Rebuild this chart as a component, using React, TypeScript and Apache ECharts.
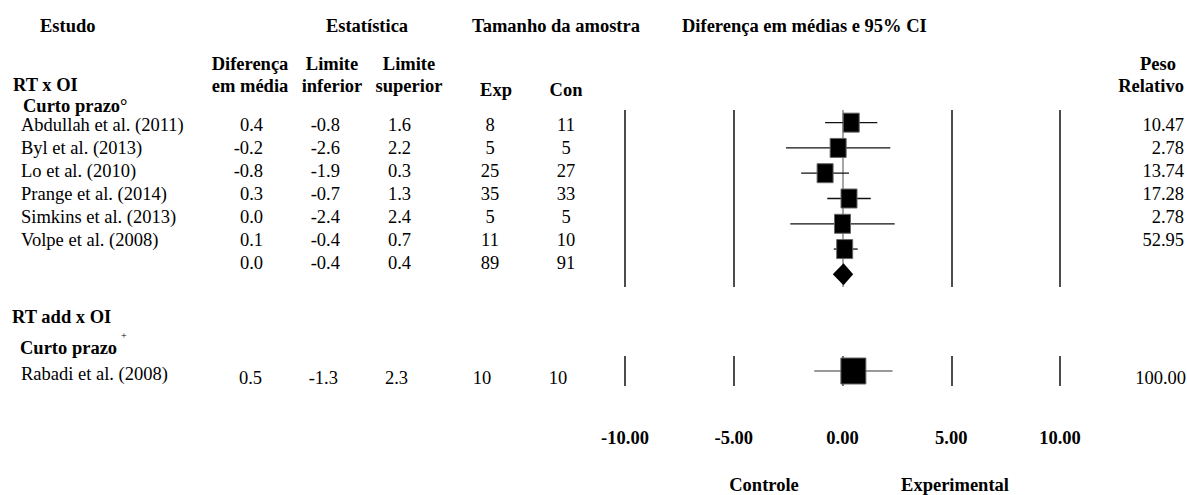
import React, { useEffect, useRef } from "react";
import * as echarts from "echarts";

// ---- data ----
const studies = [
  "Abdullah et al. (2011)",
  "Byl et al. (2013)",
  "Lo et al. (2010)",
  "Prange et al. (2014)",
  "Simkins et al. (2013)",
  "Volpe et al. (2008)",
];
const meanDiff = [0.4, -0.2, -0.8, 0.3, 0.0, 0.1];
const lowerLimit = [-0.8, -2.6, -1.9, -0.7, -2.4, -0.4];
const upperLimit = [1.6, 2.2, 0.3, 1.3, 2.4, 0.7];
const nExp = [8, 5, 25, 35, 5, 11];
const nCon = [11, 5, 27, 33, 5, 10];
const relWeight = ["10.47", "2.78", "13.74", "17.28", "2.78", "52.95"];
const pooledStats = [0.0, -0.4, 0.4]; // mean, lower, upper
const pooledN = [89, 91];

const addStudies = ["Rabadi et al. (2008)"];
const addMean = [0.5];
const addLower = [-1.3];
const addUpper = [2.3];
const addExp = [10];
const addCon = [10];
const addWeight = ["100.00"];

const xTicks = [-10, -5, 0, 5, 10];

const FONT = '"Liberation Serif", "Times New Roman", serif';
const FS = 18.5;

function txt(
  text: string,
  x: number,
  y: number,
  o: { bold?: boolean; size?: number; align?: string; lh?: number } = {}
) {
  const size = o.size ?? FS;
  const align = o.align ?? "left";
  return {
    type: "text",
    x,
    y,
    silent: true,
    style: {
      text,
      font: `${o.bold ? "bold " : ""}${size}px ${FONT}`,
      fill: "#000",
      textAlign: align,
      textVerticalAlign: "middle",
      align,
      verticalAlign: "middle",
      lineHeight: o.lh ?? size,
    },
  };
}

export default function App() {
  const ref = useRef<HTMLDivElement>(null);
  useEffect(() => {
    if (!ref.current) return;
    const chart = echarts.init(ref.current, undefined, { renderer: "svg" });

    const rowY = (i: number) => 125 + i * 23;
    const colMean = 263;
    const colLow = 340;
    const colUp = 411;
    const colExp = 490;
    const colCon = 566;
    const colW = 1184;

    const g: any[] = [];
    // headers
    g.push(txt("Estudo", 40, 26, { bold: true }));
    g.push(txt("Estatística", 367, 26, { bold: true, align: "center" }));
    g.push(txt("Tamanho da amostra", 556, 26, { bold: true, align: "center" }));
    g.push(txt("Diferença em médias e 95% CI", 682, 26, { bold: true }));
    g.push(txt("Diferença\nem média", 250, 75, { bold: true, align: "center", lh: 22 }));
    g.push(txt("Limite\ninferior", 332, 75, { bold: true, align: "center", lh: 22 }));
    g.push(txt("Limite\nsuperior", 409, 75, { bold: true, align: "center", lh: 22 }));
    g.push(txt("Exp", 496, 90, { bold: true, align: "center" }));
    g.push(txt("Con", 566, 90, { bold: true, align: "center" }));
    g.push(txt("Peso", 1158, 64, { bold: true, align: "center" }));
    g.push(txt("Relativo", 1151, 86, { bold: true, align: "center" }));
    g.push(txt("RT x OI", 13, 85, { bold: true }));
    g.push(txt("Curto prazo°", 23, 106, { bold: true }));

    studies.forEach((s, i) => {
      const y = rowY(i);
      g.push(txt(s, 21, y));
      g.push(txt(meanDiff[i].toFixed(1), colMean, y, { align: "right" }));
      g.push(txt(lowerLimit[i].toFixed(1), colLow, y, { align: "right" }));
      g.push(txt(upperLimit[i].toFixed(1), colUp, y, { align: "right" }));
      g.push(txt(String(nExp[i]), colExp, y, { align: "center" }));
      g.push(txt(String(nCon[i]), colCon, y, { align: "center" }));
      g.push(txt(relWeight[i], colW, y, { align: "right" }));
    });
    const py = rowY(studies.length);
    g.push(txt(pooledStats[0].toFixed(1), colMean, py, { align: "right" }));
    g.push(txt(pooledStats[1].toFixed(1), colLow, py, { align: "right" }));
    g.push(txt(pooledStats[2].toFixed(1), colUp, py, { align: "right" }));
    g.push(txt(String(pooledN[0]), colExp, py, { align: "center" }));
    g.push(txt(String(pooledN[1]), colCon, py, { align: "center" }));

    g.push(txt("RT add x OI", 12, 317, { bold: true }));
    g.push(txt("Curto prazo", 20, 348, { bold: true }));
    g.push(txt("+", 121, 335, { size: 10 }));
    addStudies.forEach((s, i) => {
      const y = 374 + i * 23;
      const yv = y + 4;
      g.push(txt(s, 21, y));
      g.push(txt(addMean[i].toFixed(1), colMean - 1, yv, { align: "right" }));
      g.push(txt(addLower[i].toFixed(1), colLow - 2, yv, { align: "right" }));
      g.push(txt(addUpper[i].toFixed(1), colUp - 3, yv, { align: "right" }));
      g.push(txt(String(addExp[i]), colExp - 8, yv, { align: "center" }));
      g.push(txt(String(addCon[i]), colCon - 8, yv, { align: "center" }));
      g.push(txt(addWeight[i], colW + 2, yv, { align: "right" }));
    });

    g.push(txt("Controle", 764, 485, { bold: true, align: "center" }));
    g.push(txt("Experimental", 955, 485, { bold: true, align: "center" }));

    const xAxisBase = (gridIndex: number, colors: string[], showLabels: boolean) => ({
      type: "value",
      gridIndex,
      min: xTicks[0],
      max: xTicks[xTicks.length - 1],
      interval: 5,
      axisLine: { show: false },
      axisTick: { show: false },
      axisLabel: {
        show: showLabels,
        margin: 42,
        formatter: (v: number) => v.toFixed(2),
        fontFamily: FONT,
        fontWeight: "bold",
        fontSize: FS,
        color: "#000",
      },
      splitLine: { show: true, lineStyle: { color: colors, width: 1.5 } },
    });

    const ciRender = (lineColor: string, bw: number, bh: number) =>
      (params: any, api: any) => {
        const yi = api.value(3);
        const m = api.coord([api.value(0), yi]);
        const lo = api.coord([api.value(1), yi]);
        const hi = api.coord([api.value(2), yi]);
        return {
          type: "group",
          children: [
            {
              type: "line",
              shape: { x1: lo[0], y1: m[1], x2: hi[0], y2: m[1] },
              style: { stroke: lineColor, lineWidth: 1.3 },
            },
            {
              type: "rect",
              shape: { x: m[0] - bw / 2, y: m[1] - bh / 2, width: bw, height: bh },
              style: { fill: "#000", stroke: "#666", lineWidth: 1 },
            },
          ],
        };
      };

    chart.setOption({
      animation: false,
      grid: [
        { left: 625, width: 435, top: 110, height: 177 },
        { left: 625, width: 435, top: 356, height: 30 },
      ],
      xAxis: [
        xAxisBase(0, ["#111", "#111", "#888", "#111", "#111"], false),
        xAxisBase(1, ["#111", "#111", "#444", "#111", "#111"], true),
      ],
      yAxis: [
        { type: "category", gridIndex: 0, inverse: true, data: [...studies, "Total"], show: false },
        { type: "category", gridIndex: 1, inverse: true, data: addStudies, show: false },
      ],
      series: [
        {
          type: "custom",
          xAxisIndex: 0,
          yAxisIndex: 0,
          data: studies.map((_, i) => [meanDiff[i], lowerLimit[i], upperLimit[i], i]),
          encode: { x: [0, 1, 2], y: 3 },
          renderItem: ciRender("#111", 16, 19),
        },
        {
          type: "custom",
          xAxisIndex: 0,
          yAxisIndex: 0,
          data: [[pooledStats[0], pooledStats[1], pooledStats[2], studies.length]],
          encode: { x: [0, 1, 2], y: 3 },
          renderItem: (params: any, api: any) => {
            const yi = api.value(3);
            const m = api.coord([api.value(0), yi]);
            const lo = api.coord([api.value(1), yi]);
            const hi = api.coord([api.value(2), yi]);
            return {
              type: "polygon",
              shape: {
                points: [
                  [lo[0] - 1, m[1]],
                  [m[0] + 1, m[1] - 11],
                  [hi[0] + 2, m[1]],
                  [m[0] + 1, m[1] + 11],
                ],
              },
              style: { fill: "#000" },
            };
          },
        },
        {
          type: "custom",
          xAxisIndex: 1,
          yAxisIndex: 1,
          data: addStudies.map((_, i) => [addMean[i], addLower[i], addUpper[i], i]),
          encode: { x: [0, 1, 2], y: 3 },
          renderItem: ciRender("#777", 25, 26),
        },
      ],
      graphic: g,
    });

    return () => chart.dispose();
  }, []);

  return (
    <div
      ref={ref}
      style={{ position: "absolute", left: 0, top: 0, width: 1187, height: 495, background: "#fff" }}
    />
  );
}
